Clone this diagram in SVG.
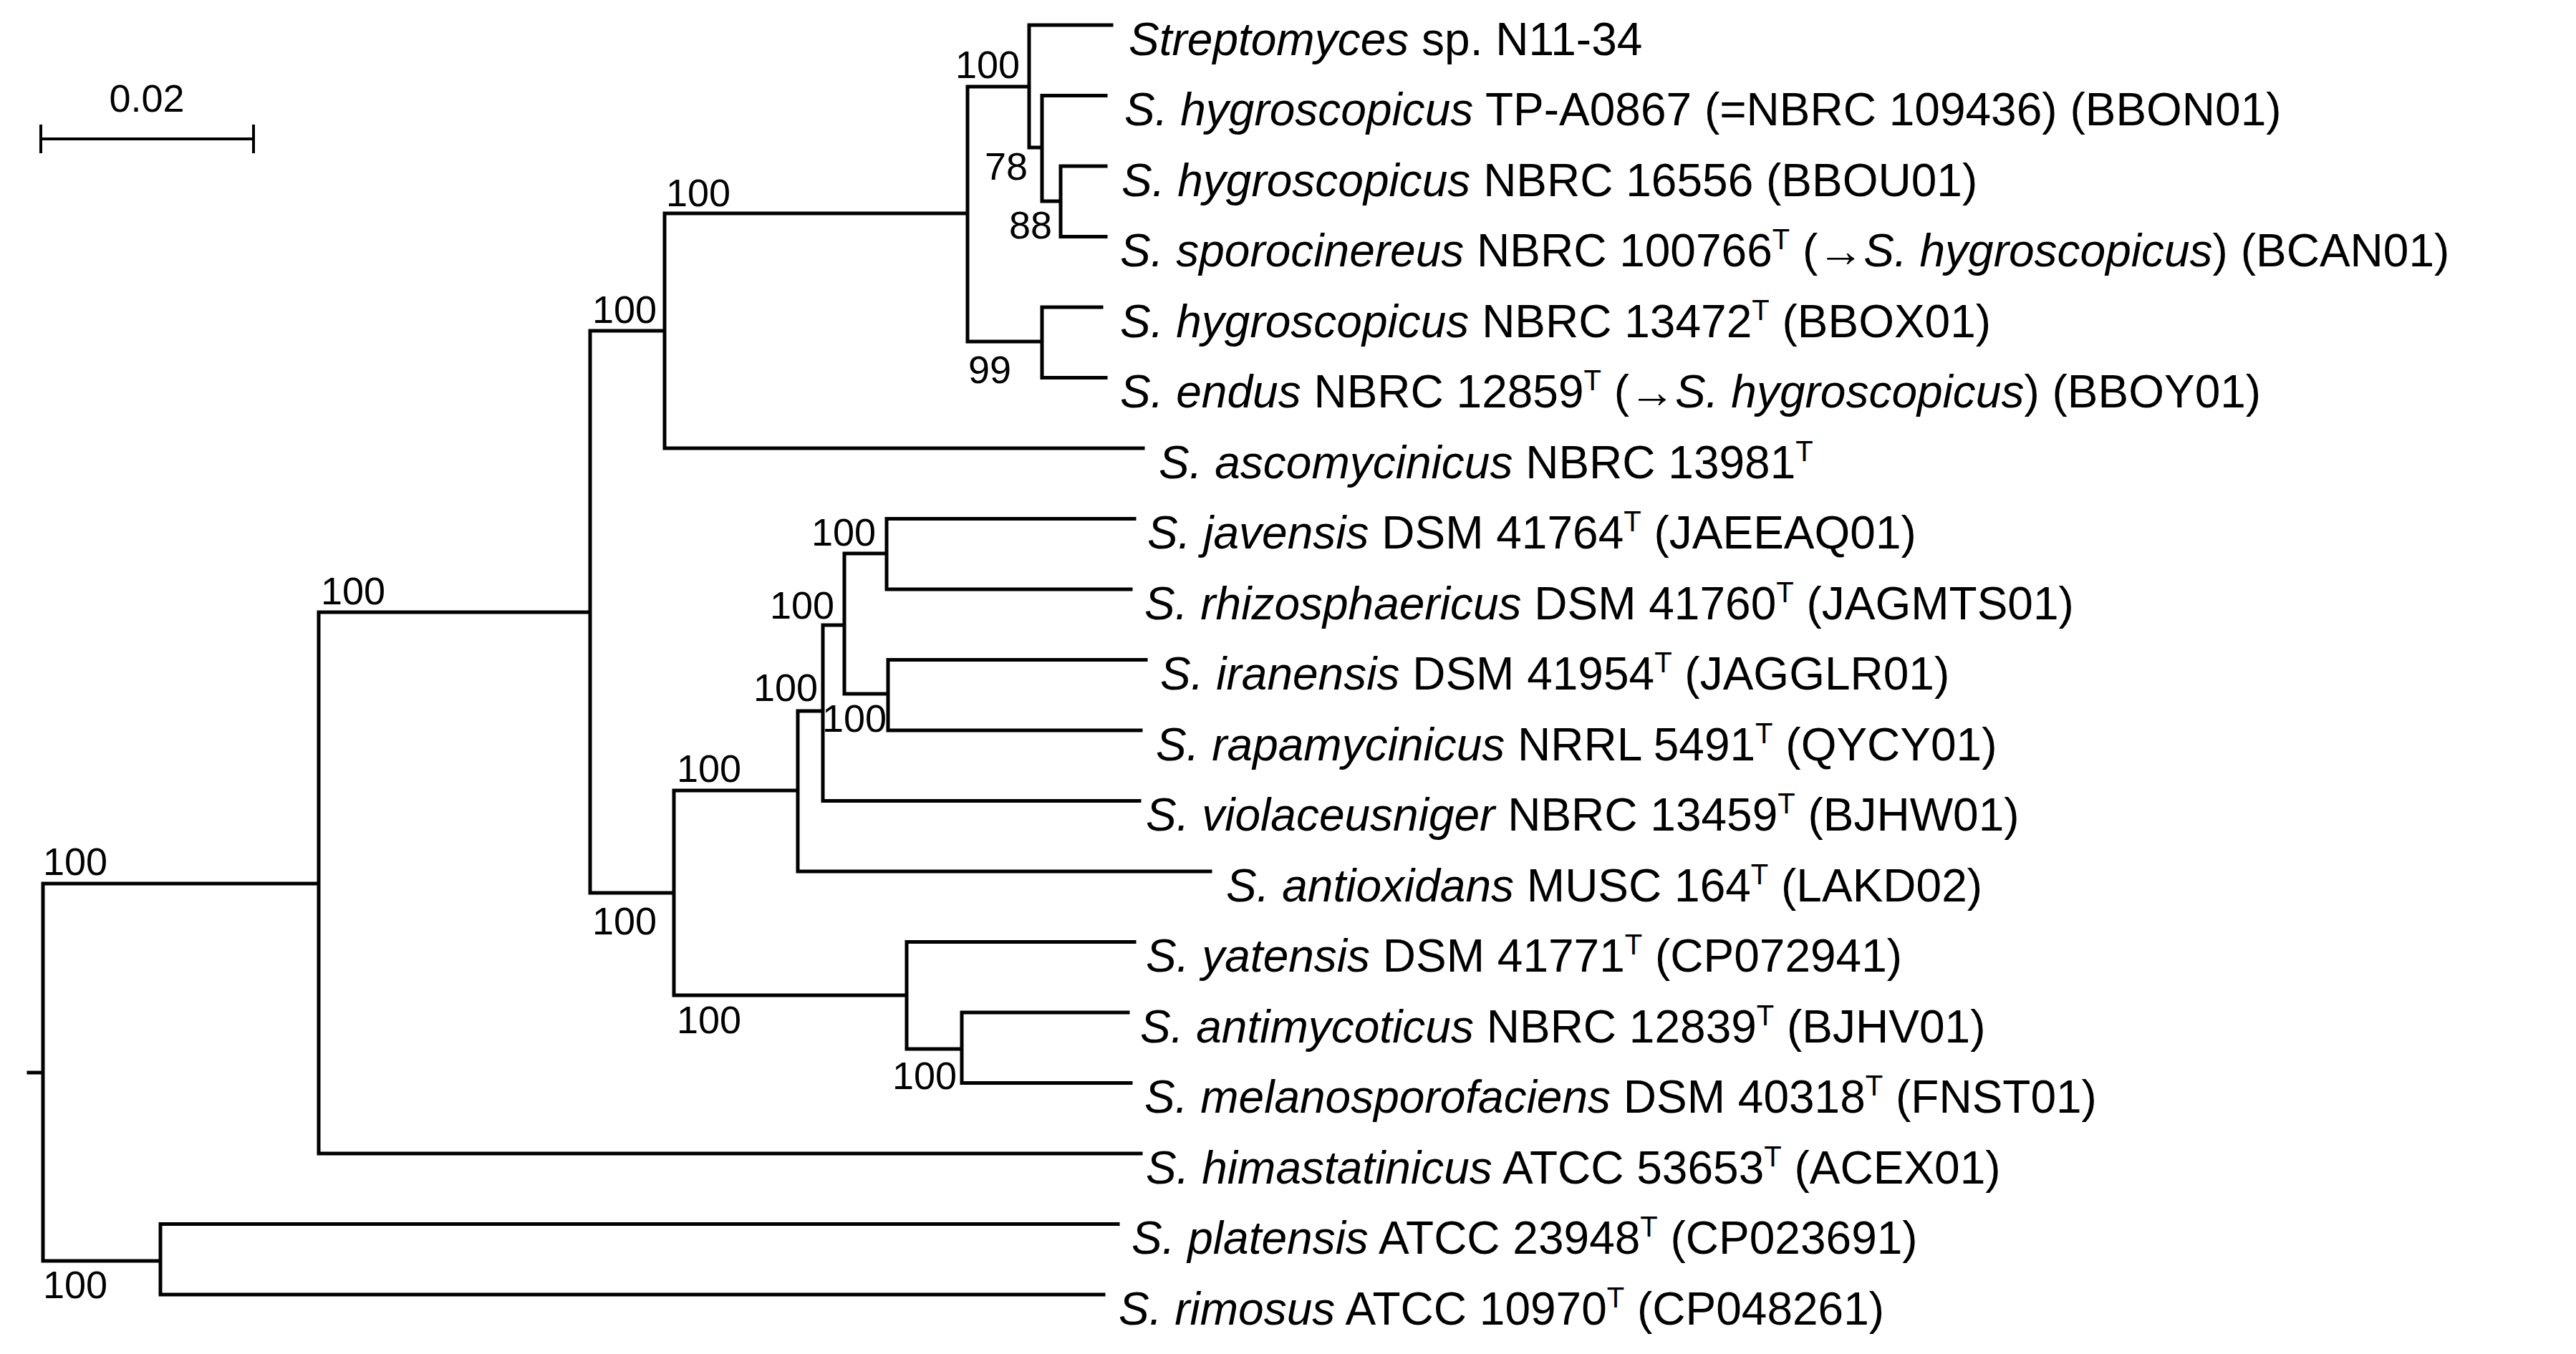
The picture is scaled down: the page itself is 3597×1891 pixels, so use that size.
<svg xmlns="http://www.w3.org/2000/svg" width="3597" height="1891" viewBox="0 0 3597 1891">
<style>
.br{fill:none;stroke:#000;stroke-width:5;stroke-linecap:square}
.lf{font-family:"Liberation Sans",Arial,sans-serif;font-size:64px;fill:#000}
.bs{font-family:"Liberation Sans",Arial,sans-serif;font-size:54px;fill:#000}
.i{font-style:italic}
.s{font-size:40px}
</style>
<rect width="3597" height="1891" fill="#fff"/>
<g id="scale">
<path class="br" d="M57 194H354M57 176V212M354 176V212" style="stroke-width:4"/>
<text class="bs" x="205" y="156" text-anchor="middle">0.02</text>
</g>
<g id="connectors">
<path class="br" d="M40 1498H60M60 1234V1761M60 1234H445M60 1761H224M224 1709.5V1808M224 1709.5H1561M224 1808H1541
M445 855V1611M445 1611H1593M445 855H824
M824 462V1247M824 462H928M824 1247H941
M928 298V626M928 626H1596M928 298H1351
M1351 121V477M1351 121H1437M1351 477H1455
M1437 35V206M1437 35H1552M1437 206H1455
M1455 133.5V281M1455 133.5H1544M1455 281H1481
M1481 232V330.5M1481 232H1544M1481 330.5H1544
M1455 429V527.5M1455 429H1538M1455 527.5H1544
M941 1104V1390M941 1104H1114M941 1390H1266
M1114 993V1217M1114 1217H1690M1114 993H1149
M1149 873V1118.5M1149 1118.5H1591M1149 873H1179
M1179 773V969M1179 773H1238M1179 969H1240
M1238 724.5V823M1238 724.5H1584M1238 823H1579
M1240 921.5V1020M1240 921.5H1600M1240 1020H1593
M1266 1315.5V1465M1266 1315.5H1584M1266 1465H1343
M1343 1414V1512.5M1343 1414H1575M1343 1512.5H1579"/>
</g>
<g id="bootstrap">
<text class="bs" x="1424" y="109" text-anchor="end">100</text>
<text class="bs" x="1435" y="251" text-anchor="end">78</text>
<text class="bs" x="1469" y="333" text-anchor="end">88</text>
<text class="bs" x="1352" y="535">99</text>
<text class="bs" x="930" y="288">100</text>
<text class="bs" x="827" y="451">100</text>
<text class="bs" x="1223" y="762" text-anchor="end">100</text>
<text class="bs" x="1165" y="864" text-anchor="end">100</text>
<text class="bs" x="1142" y="979" text-anchor="end">100</text>
<text class="bs" x="1148" y="1022">100</text>
<text class="bs" x="945" y="1092">100</text>
<text class="bs" x="827" y="1305">100</text>
<text class="bs" x="945" y="1443">100</text>
<text class="bs" x="1246" y="1521">100</text>
<text class="bs" x="448" y="844">100</text>
<text class="bs" x="60" y="1222">100</text>
<text class="bs" x="60" y="1813">100</text>
</g>
<g id="leaf0"><text class="lf" x="1576" y="77"><tspan class="i">Streptomyces</tspan> sp. N11-34</text></g>
<g id="leaf1"><text class="lf" x="1570" y="175"><tspan class="i">S. hygroscopicus</tspan> TP-A0867 (=NBRC 109436) (BBON01)</text></g>
<g id="leaf2"><text class="lf" x="1566" y="274"><tspan class="i">S. hygroscopicus</tspan> NBRC 16556 (BBOU01)</text></g>
<g id="leaf3"><text class="lf" x="1564" y="372"><tspan class="i">S. sporocinereus</tspan> NBRC 100766<tspan class="s" dy="-24">T</tspan><tspan dy="24"> (→</tspan><tspan class="i">S. hygroscopicus</tspan>) (BCAN01)</text></g>
<g id="leaf4"><text class="lf" x="1564" y="471"><tspan class="i">S. hygroscopicus</tspan> NBRC 13472<tspan class="s" dy="-24">T</tspan><tspan dy="24"> (BBOX01)</tspan></text></g>
<g id="leaf5"><text class="lf" x="1564" y="569"><tspan class="i">S. endus</tspan> NBRC 12859<tspan class="s" dy="-24">T</tspan><tspan dy="24"> (→</tspan><tspan class="i">S. hygroscopicus</tspan>) (BBOY01)</text></g>
<g id="leaf6"><text class="lf" x="1618" y="668"><tspan class="i">S. ascomycinicus</tspan> NBRC 13981<tspan class="s" dy="-24">T</tspan></text></g>
<g id="leaf7"><text class="lf" x="1602" y="766"><tspan class="i">S. javensis</tspan> DSM 41764<tspan class="s" dy="-24">T</tspan><tspan dy="24"> (JAEEAQ01)</tspan></text></g>
<g id="leaf8"><text class="lf" x="1598" y="865"><tspan class="i">S. rhizosphaericus</tspan> DSM 41760<tspan class="s" dy="-24">T</tspan><tspan dy="24"> (JAGMTS01)</tspan></text></g>
<g id="leaf9"><text class="lf" x="1620" y="963"><tspan class="i">S. iranensis</tspan> DSM 41954<tspan class="s" dy="-24">T</tspan><tspan dy="24"> (JAGGLR01)</tspan></text></g>
<g id="leaf10"><text class="lf" x="1614" y="1062"><tspan class="i">S. rapamycinicus</tspan> NRRL 5491<tspan class="s" dy="-24">T</tspan><tspan dy="24"> (QYCY01)</tspan></text></g>
<g id="leaf11"><text class="lf" x="1600" y="1160"><tspan class="i">S. violaceusniger</tspan> NBRC 13459<tspan class="s" dy="-24">T</tspan><tspan dy="24"> (BJHW01)</tspan></text></g>
<g id="leaf12"><text class="lf" x="1712" y="1259"><tspan class="i">S. antioxidans</tspan> MUSC 164<tspan class="s" dy="-24">T</tspan><tspan dy="24"> (LAKD02)</tspan></text></g>
<g id="leaf13"><text class="lf" x="1600" y="1357"><tspan class="i">S. yatensis</tspan> DSM 41771<tspan class="s" dy="-24">T</tspan><tspan dy="24"> (CP072941)</tspan></text></g>
<g id="leaf14"><text class="lf" x="1592" y="1456"><tspan class="i">S. antimycoticus</tspan> NBRC 12839<tspan class="s" dy="-24">T</tspan><tspan dy="24"> (BJHV01)</tspan></text></g>
<g id="leaf15"><text class="lf" x="1598" y="1554"><tspan class="i">S. melanosporofaciens</tspan> DSM 40318<tspan class="s" dy="-24">T</tspan><tspan dy="24"> (FNST01)</tspan></text></g>
<g id="leaf16"><text class="lf" x="1600" y="1653"><tspan class="i">S. himastatinicus</tspan> ATCC 53653<tspan class="s" dy="-24">T</tspan><tspan dy="24"> (ACEX01)</tspan></text></g>
<g id="leaf17"><text class="lf" x="1580" y="1751"><tspan class="i">S. platensis</tspan> ATCC 23948<tspan class="s" dy="-24">T</tspan><tspan dy="24"> (CP023691)</tspan></text></g>
<g id="leaf18"><text class="lf" x="1562" y="1850"><tspan class="i">S. rimosus</tspan> ATCC 10970<tspan class="s" dy="-24">T</tspan><tspan dy="24"> (CP048261)</tspan></text></g>
</svg>
